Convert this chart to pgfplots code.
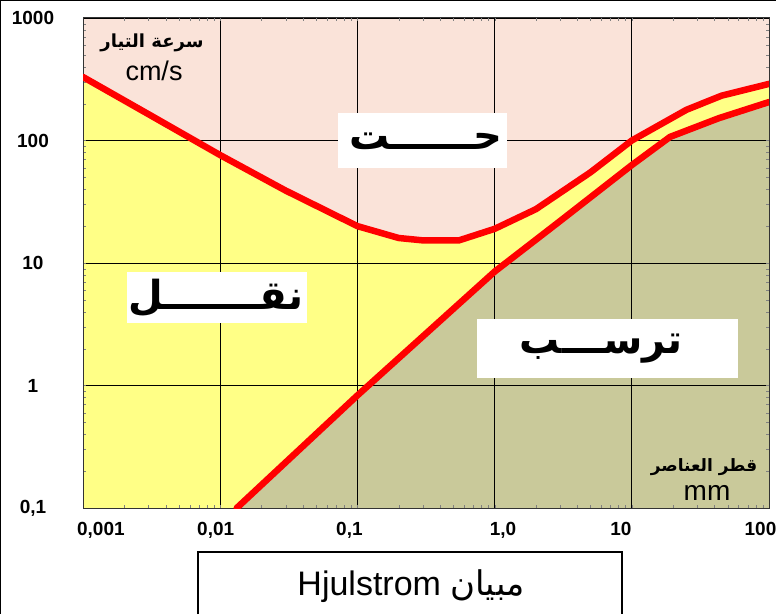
\documentclass[border=0pt]{standalone}
\usepackage{fontspec}
\setmainfont{Liberation Sans}
\newfontfamily\arabicfont[Script=Arabic]{DejaVu Sans}
\TeXXeTstate=1
\usepackage{pgfplots}
\pgfplotsset{compat=1.18}
\definecolor{erosion}{RGB}{250,227,217}
\definecolor{transport}{RGB}{255,255,134}
\definecolor{deposit}{RGB}{201,201,154}
\definecolor{curve}{RGB}{255,0,0}
\begin{document}
\begin{tikzpicture}[x=1pt,y=1pt]
\begin{axis}[
  at={(83pt,106pt)}, anchor=south west,
  scale only axis, width=686pt, height=490pt,
  xmode=log, ymode=log,
  xmin=0.001, xmax=100, ymin=0.1, ymax=1000,
  xtick={0.001,0.01,0.1,1,10,100},
  xticklabels={,,,,,},
  extra x ticks={0.00135,0.00927,0.0875,1.153,8.32,86.7},
  extra x tick labels={{0,001},{0,01},{0,1},{1,0},10,100},
  extra x tick style={grid=none, major tick length=0pt},
  ytick={0.1,1,10,100,1000},
  yticklabels={{0,1},1,10,100,1000},
  major tick length=0pt, minor tick num=0,
  grid=major,
  major grid style={black, line width=0.9pt},
  axis line style={black!80, line width=1pt},
  tick label style={font=\bfseries\fontsize{19}{22}\selectfont},
  xticklabel style={yshift=-11pt},
  yticklabel style={anchor=center, xshift=-50pt},
  set layers,
]
% background regions
\addplot[on layer=axis background, fill=erosion, draw=none]
  coordinates {(0.001,0.1) (100,0.1) (100,1000) (0.001,1000)};
\addplot[on layer=axis background, fill=transport, draw=none]
  coordinates {(0.001,330) (0.003,164) (0.01,76) (0.03,39) (0.1,20) (0.2,16) (0.3,15.3) (0.55,15.3) (1,19) (2,27.5) (5,55) (10,100) (25,178) (45,232) (100,290) (100,0.1) (0.001,0.1)};
\addplot[on layer=axis background, fill=deposit, draw=none]
  coordinates {(0.0132,0.1) (0.1,0.83) (1,8.5) (3,22) (10,63) (19,107) (43,152) (100,206) (100,0.1)};
% boundary curves
\addplot[curve, line width=6.5pt, line join=round, line cap=round]
  coordinates {(0.001,330) (0.003,164) (0.01,76) (0.03,39) (0.1,20) (0.2,16) (0.3,15.3) (0.55,15.3) (1,19) (2,27.5) (5,55) (10,100) (25,178) (45,232) (100,290)};
\addplot[curve, line width=6.5pt, line join=round, line cap=round]
  coordinates {(0.0132,0.1) (0.1,0.83) (1,8.5) (3,22) (10,63) (19,107) (43,152) (100,206)};
\end{axis}
% outer frame (top and left)
\draw[black, line width=2pt] (0,614) -- (776,614);
\draw[black, line width=2pt] (0,0) -- (0,614);
% axis captions
\node[font=\arabicfont\bfseries\fontsize{18}{22}\selectfont] at (152,571) {\beginR سرعة التيار\endR};
\node[font=\fontsize{27}{30}\selectfont] at (154,543) {cm/s};
\node[font=\arabicfont\bfseries\fontsize{17}{21}\selectfont] at (704,147) {\beginR قطر العناصر\endR};
\node[font=\fontsize{28}{30}\selectfont] at (707,121) {mm};
% region labels
\fill[white] (338,446) rectangle (507,501);
\node[font=\arabicfont\bfseries\fontsize{40}{46}\selectfont] at (426,473) {\beginR حــــــت\endR};
\fill[white] (127,291) rectangle (307,342);
\node[font=\arabicfont\bfseries\fontsize{40}{46}\selectfont] at (216,316) {\beginR نقـــــــل\endR};
\fill[white] (477,236) rectangle (738,295);
\node[font=\arabicfont\bfseries\fontsize{40}{46}\selectfont] at (601,265) {\beginR ترســـب\endR};
% title box
\draw[black, line width=1.5pt] (198,0) -- (198,62) -- (622,62) -- (622,0);
\node[anchor=base] at (411,19) {\fontsize{34}{38}\selectfont\beginR{\arabicfont مبيان} \beginL Hjulstrom\endL\endR};
\pgfresetboundingbox
\useasboundingbox (0,0) rectangle (776,614);
\end{tikzpicture}
\end{document}
